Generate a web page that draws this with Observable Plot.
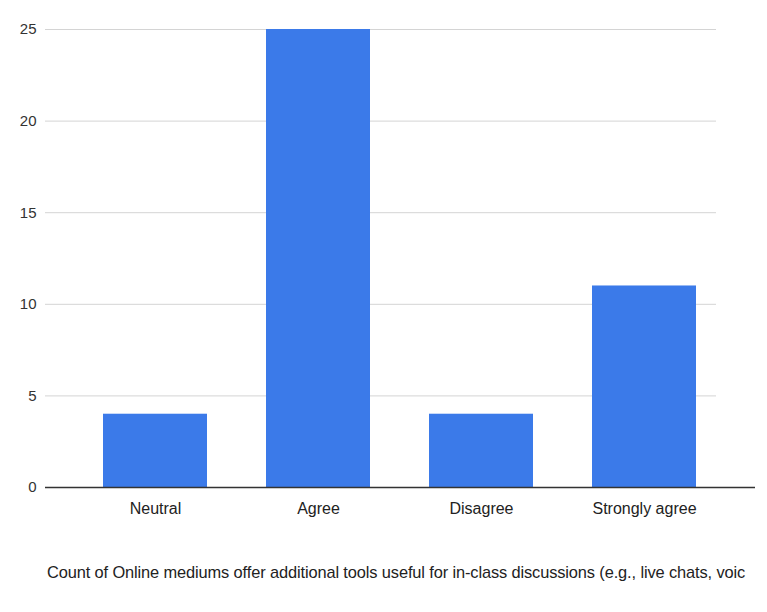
<!DOCTYPE html>
<html>
<head>
<meta charset="utf-8">
<script src="https://cdn.jsdelivr.net/npm/d3@7"></script>
<script src="https://cdn.jsdelivr.net/npm/@observablehq/plot@0.6"></script>
<style>
  body { margin: 0; background: #fff; font-family: "Liberation Sans", Arial, sans-serif; }
  #caption { position: absolute; left: 47px; top: 563px; width: 720px; text-align: left; font-size: 16.4px; color: #222; white-space: nowrap; overflow: hidden; letter-spacing: -0.12px; }
</style>
</head>
<body>
<div id="chart"></div>
<div id="caption"></div>
<script>
const categories = ["Neutral", "Agree", "Disagree", "Strongly agree"];
const counts = [4, 25, 4, 11];
const yTicks = [0, 5, 10, 15, 20, 25];
const captionText = "Count of Online mediums offer additional tools useful for in-class discussions (e.g., live chats, voic";

const data = categories.map((c, i) => ({category: c, count: counts[i]}));

const chart = Plot.plot({
  width: 767,
  height: 540,
  marginTop: 29,
  marginBottom: 53,
  marginLeft: 45,
  marginRight: 51,
  style: {fontFamily: "'Liberation Sans', Arial, sans-serif", fontSize: "15px", color: "#333", background: "#fff"},
  x: {domain: categories, range: [73.5, 725.5], paddingInner: 0.36, paddingOuter: 0.18, label: null},
  y: {domain: [0, 25], ticks: yTicks, label: null},
  marks: [
    Plot.ruleY(yTicks.filter(d => d > 0), {stroke: "#d4d4d4", strokeWidth: 1}),
    Plot.barY(data, {x: "category", y: "count", fill: "#3b7ae9"}),
    Plot.ruleY([0], {stroke: "#333", strokeWidth: 1.5, className: "baseline"}),
    Plot.axisY({ticks: yTicks, tickSize: 0, tickPadding: 9, fontSize: 15, fill: "#333"}),
    Plot.axisX({tickSize: 0, tickPadding: 15, fontSize: 16, fill: "#222"})
  ]
});
document.getElementById("chart").appendChild(chart);
d3.select(chart).selectAll(".baseline line").attr("x2", 755);
document.getElementById("caption").textContent = captionText;
</script>
</body>
</html>
